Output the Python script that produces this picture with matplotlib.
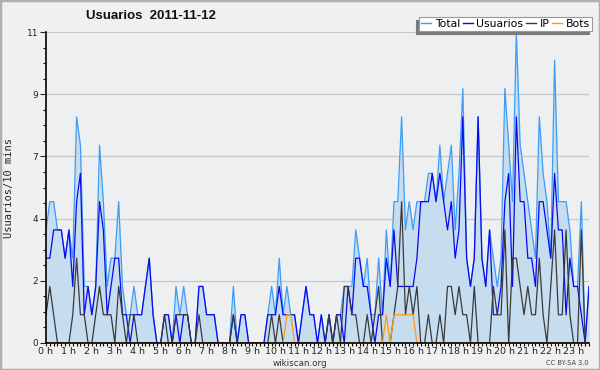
import numpy as np
import matplotlib
matplotlib.use("Agg")
import matplotlib.pyplot as plt
from matplotlib.patches import Rectangle
from matplotlib.lines import Line2D

# valores cada 10 minutos, 2011-11-12
total = [4, 5, 5, 4, 4, 3, 4, 3, 8, 7, 2, 2, 1, 2, 7, 5, 2, 3, 3, 5,
         2, 1, 1, 2, 1, 1, 2, 3, 1, 0, 0, 1, 1, 0, 2, 1, 2, 1, 0, 0,
         2, 2, 1, 1, 1, 0, 0, 0, 0, 2, 0, 1, 1, 0, 0, 0, 0, 0, 1, 2,
         1, 3, 1, 2, 1, 1, 0, 1, 2, 1, 1, 0, 1, 0, 1, 0, 1, 1, 2, 2,
         2, 4, 3, 2, 3, 1, 1, 3, 1, 4, 2, 5, 5, 8, 4, 5, 4, 5, 5, 5,
         6, 6, 5, 7, 5, 6, 7, 4, 6, 9, 3, 2, 3, 8, 3, 2, 4, 3, 2, 3,
         9, 7, 5, 11, 7, 6, 5, 4, 3, 8, 6, 5, 3, 10, 5, 5, 5, 4, 2, 2,
         5, 0, 2]
usuarios = [3, 3, 4, 4, 4, 3, 4, 2, 5, 6, 1, 2, 1, 2, 5, 4, 1, 2, 3, 3,
            1, 1, 0, 1, 1, 1, 2, 3, 1, 0, 0, 1, 1, 0, 1, 0, 1, 1, 0, 0,
            2, 2, 1, 1, 1, 0, 0, 0, 0, 1, 0, 1, 1, 0, 0, 0, 0, 0, 1, 1,
            1, 2, 1, 1, 1, 1, 0, 1, 2, 1, 1, 0, 1, 0, 1, 0, 1, 1, 0, 2,
            1, 3, 3, 2, 2, 1, 0, 1, 1, 3, 2, 4, 2, 2, 2, 2, 2, 3, 5, 5,
            5, 6, 5, 6, 5, 4, 5, 3, 4, 8, 3, 2, 3, 8, 3, 2, 4, 1, 1, 2,
            5, 6, 2, 8, 5, 5, 3, 3, 2, 5, 5, 4, 3, 6, 4, 4, 1, 3, 2, 2,
            1, 0, 2]
ip = [1, 2, 1, 0, 0, 0, 0, 1, 3, 1, 1, 0, 0, 1, 2, 1, 1, 1, 0, 2,
      1, 0, 1, 1, 0, 0, 0, 0, 0, 0, 0, 1, 0, 0, 1, 1, 1, 1, 0, 0,
      1, 0, 0, 0, 0, 0, 0, 0, 0, 1, 0, 0, 0, 0, 0, 0, 0, 0, 0, 1,
      0, 1, 0, 0, 0, 0, 0, 0, 0, 0, 0, 0, 0, 0, 1, 0, 1, 0, 2, 2,
      1, 1, 0, 0, 1, 0, 1, 2, 0, 0, 0, 1, 2, 5, 1, 2, 1, 2, 0, 0,
      1, 0, 0, 1, 0, 2, 2, 1, 2, 1, 1, 0, 2, 0, 0, 0, 0, 2, 1, 1,
      4, 0, 3, 3, 2, 1, 2, 1, 1, 3, 1, 0, 2, 4, 1, 1, 4, 1, 0, 0,
      4, 0, 0]
bots = [0] * 143
for k in [63, 64, 89, 91, 92, 93, 94, 95, 96]:
    bots[k] = 1

hour_labels = ["%d h" % h for h in range(24)]
ytick_labels = ["0", "2", "4", "7", "9", "11"]

x = np.arange(len(total))

fig = plt.figure(figsize=(6, 3.7), dpi=100)
fig.patch.set_facecolor("#f0f0f0")
fig.patches.append(Rectangle((0, 0), 1, 1, transform=fig.transFigure,
                             fill=False, edgecolor="#b0b0b0", lw=2.5))

ax = fig.add_axes([46 / 600, 27 / 370, 543 / 600, 311 / 370])
ax.set_facecolor("#eeeff1")

ax.fill_between(x, total, color="#c6dcef", lw=0, zorder=1)
ax.plot(x, total, color="#3d9cf5", lw=0.9, zorder=3)
ax.plot(x, usuarios, color="#0a0af0", lw=0.9, zorder=4)
ax.plot(x, ip, color="#3a3a3a", lw=0.9, zorder=5)
ax.plot(x, bots, color="#ff9a10", lw=0.9, zorder=6)

ax.set_xlim(0, len(total) - 1)
ax.set_ylim(0, 11)
ax.set_yticks(np.linspace(0, 11, 6))
ax.set_yticklabels(ytick_labels)
ax.set_yticks(np.linspace(0, 11, 21), minor=True)
ax.set_xticks(np.arange(0, 144, 6))
ax.set_xticklabels(hour_labels)
ax.set_xticks(np.arange(0, 143, 1), minor=True)

ax.yaxis.grid(True, color="#c8c8c8", lw=0.9, zorder=0)
ax.set_axisbelow(True)
for s in ["top", "right"]:
    ax.spines[s].set_visible(False)
for s in ["left", "bottom"]:
    ax.spines[s].set_linewidth(1.2)
    ax.spines[s].set_zorder(10)
ax.tick_params(axis="y", which="major", length=4.5, width=0.8, labelsize=6.5,
               pad=1, colors="#222222")
ax.tick_params(axis="y", which="minor", length=2.2, width=0.8)
ax.tick_params(axis="x", which="major", length=2.5, width=0.8, labelsize=6.8,
               pad=0.5, colors="#222222")
ax.tick_params(axis="x", which="minor", length=2.2, width=0.8)

ax.set_ylabel("Usuarios/10 mins", family="DejaVu Sans Mono", fontsize=7.5,
              color="#222222", labelpad=9)

fig.text(151 / 600, 1 - 16 / 370, "Usuarios  2011-11-12", ha="center",
         va="center", fontsize=9.5, fontweight="bold", color="#111111",
         family="Liberation Sans")
fig.text(0.5, 1 - 363 / 370, "wikiscan.org", ha="center", va="center",
         fontsize=6.3, color="#333333")
fig.text(589 / 600, 1 - 363 / 370, "CC BY-SA 3.0", ha="right", va="center",
         fontsize=4.8, color="#444444")

handles = [Line2D([], [], color="#3d9cf5", lw=1),
           Line2D([], [], color="#0a0af0", lw=1),
           Line2D([], [], color="#3a3a3a", lw=1),
           Line2D([], [], color="#ff9a10", lw=1)]
leg = fig.legend(handles, ["Total", "Usuarios", "IP", "Bots"], ncol=4,
                 loc="upper right", bbox_to_anchor=(592 / 600, 1 - 17 / 370),
                 fontsize=7.8, frameon=True, fancybox=False,
                 shadow={"ox": -2.2, "oy": -2.2, "color": "#7a7a7a", "alpha": 1},
                 handlelength=0.9, handletextpad=0.35, columnspacing=0.25,
                 borderpad=0.2, borderaxespad=0)
leg.get_frame().set_edgecolor("#999999")
leg.get_frame().set_linewidth(0.8)

fig.savefig("out.png", dpi=100, facecolor=fig.get_facecolor())
